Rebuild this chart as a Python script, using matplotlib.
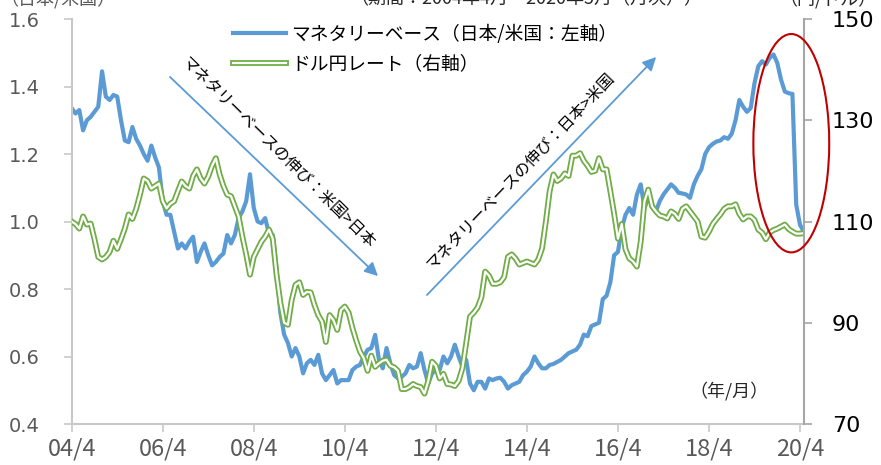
import numpy as np
import matplotlib
matplotlib.use('Agg')
import matplotlib.pyplot as plt
from matplotlib.lines import Line2D
from matplotlib.patches import Ellipse

plt.rcParams['font.family'] = ['Noto Sans CJK JP', 'DejaVu Sans']

# 月次データ 2004/4 ～ 2020/5
mb_ratio = [
    1.336, 1.32, 1.33, 1.27, 1.30, 1.31, 1.325, 1.34, 1.445, 1.37,
    1.36, 1.375, 1.37, 1.30, 1.24, 1.235, 1.28, 1.245, 1.225, 1.20,
    1.18, 1.225, 1.19, 1.16, 1.06, 1.02, 1.02, 0.97, 0.92, 0.935,
    0.92, 0.94, 0.955, 0.88, 0.91, 0.935, 0.90, 0.87, 0.88, 0.895,
    0.905, 0.96, 0.935, 0.96, 1.01, 1.03, 1.06, 1.14, 1.04, 1.00,
    0.995, 1.01, 0.965, 0.96, 0.86, 0.73, 0.665, 0.64, 0.60, 0.625,
    0.60, 0.55, 0.58, 0.59, 0.575, 0.605, 0.55, 0.53, 0.545, 0.56,
    0.52, 0.53, 0.53, 0.53, 0.56, 0.57, 0.575, 0.60, 0.62, 0.625,
    0.664, 0.59, 0.565, 0.625, 0.58, 0.545, 0.535, 0.54, 0.55, 0.575,
    0.565, 0.57, 0.61, 0.56, 0.52, 0.55, 0.56, 0.56, 0.60, 0.58,
    0.60, 0.635, 0.60, 0.57, 0.59, 0.52, 0.50, 0.525, 0.525, 0.505,
    0.535, 0.53, 0.535, 0.537, 0.525, 0.505, 0.515, 0.52, 0.525, 0.545,
    0.555, 0.57, 0.60, 0.58, 0.565, 0.565, 0.575, 0.578, 0.584, 0.59,
    0.60, 0.61, 0.615, 0.62, 0.635, 0.665, 0.66, 0.69, 0.695, 0.70,
    0.77, 0.78, 0.82, 0.90, 0.91, 0.98, 1.02, 1.04, 1.02, 1.08,
    1.11, 1.04, 1.07, 1.05, 1.03, 1.06, 1.08, 1.095, 1.11, 1.10,
    1.085, 1.083, 1.08, 1.07, 1.11, 1.135, 1.155, 1.20, 1.22, 1.23,
    1.237, 1.24, 1.25, 1.245, 1.26, 1.30, 1.36, 1.34, 1.325, 1.336,
    1.41, 1.46, 1.475, 1.465, 1.485, 1.495, 1.47, 1.42, 1.385, 1.38,
    1.378, 1.05, 0.99, 0.97,
]
usdjpy = [
    110.0, 109.5, 108.6, 111.0, 109.4, 109.6, 106.5, 103.0, 102.5, 103.0,
    104.0, 106.2, 104.6, 106.5, 108.6, 111.4, 110.5, 112.5, 115.3, 118.5,
    118.0, 116.5, 117.0, 117.5, 114.0, 112.6, 113.5, 114.0, 116.0, 117.9,
    117.0, 116.5, 119.0, 120.3, 118.5, 117.5, 118.9, 121.0, 122.5, 119.3,
    117.0, 115.3, 115.0, 113.0, 111.0, 107.0, 103.5, 99.5, 103.0, 104.5,
    106.0, 107.0, 108.4, 106.6, 99.5, 94.0, 90.0, 89.6, 94.5, 97.5,
    98.0, 95.5, 96.1, 96.0, 93.5, 91.5, 90.2, 86.2, 91.5, 90.5,
    88.6, 92.5, 93.2, 92.0, 89.0, 86.5, 84.3, 83.0, 80.5, 83.5,
    81.3, 82.0, 82.5, 82.7, 81.5, 81.2, 80.5, 76.9, 76.9, 77.3,
    77.9, 77.5, 77.3, 76.0, 78.5, 82.3, 81.5, 79.0, 79.9, 77.9,
    77.8, 77.5, 78.5, 81.0, 86.0, 91.2, 92.0, 93.0, 95.0, 100.1,
    99.3, 97.7, 97.7, 98.0, 99.0, 103.0, 103.5, 102.7, 101.5, 101.8,
    102.1, 101.8, 101.5, 102.5, 104.7, 110.0, 116.0, 119.3, 118.0, 118.5,
    119.5, 119.0, 123.0, 123.0, 123.5, 122.0, 121.0, 119.8, 120.0, 122.5,
    120.3, 120.3, 116.0, 111.5, 106.6, 109.5, 104.5, 102.7, 102.1, 101.1,
    106.0, 114.0, 116.3, 113.0, 112.0, 111.2, 111.0, 110.6, 112.0, 111.5,
    110.5, 112.5, 113.0, 112.0, 111.0, 110.0, 107.0, 106.8, 108.0, 109.5,
    110.5, 111.4, 112.5, 113.0, 113.0, 113.4, 111.5, 110.4, 111.0, 111.0,
    110.3, 108.4, 107.8, 106.5, 107.8, 108.3, 108.6, 109.0, 109.4, 108.5,
    108.0, 107.6, 107.6, 107.7,
]
xtick_labels = ['04/4', '06/4', '08/4', '10/4', '12/4', '14/4', '16/4', '18/4', '20/4']
label_mb = 'マネタリーベース（日本/米国：左軸）'
label_fx = 'ドル円レート（右軸）'

blue = '#5b9bd5'
green = '#70ad47'

months = np.arange(len(mb_ratio))

fig = plt.figure(figsize=(8.81, 4.65), dpi=100)
ax = fig.add_axes([71.7/881, 41/465, 732.3/881, 405/465])
ax2 = ax.twinx()

ax.plot(months, mb_ratio, color=blue, lw=3.0, solid_joinstyle='round')
# 二重線（緑の縁取り＋白抜き）
ax2.plot(months, usdjpy, color=green, lw=4.2, solid_joinstyle='round')
ax2.plot(months, usdjpy, color='white', lw=1.6, solid_joinstyle='round')

ax.set_xlim(0, 193.05)
ax.set_ylim(0.4, 1.6)
ax2.set_ylim(70, 150)
ax.set_xticks(np.arange(0, 193, 24))
ax.set_xticklabels(xtick_labels)
ax.set_yticks(np.arange(0.4, 1.61, 0.2))
ax.set_yticklabels(['%.1f' % v for v in np.arange(0.4, 1.61, 0.2)])
ax2.set_yticks([70, 90, 110, 130, 150])

for s in ['top', 'right']:
    ax.spines[s].set_visible(False)
for s in ['top', 'left', 'bottom']:
    ax2.spines[s].set_visible(False)
ax.spines['left'].set_color('#c8c8c8')
ax.spines['bottom'].set_color('#c8c8c8')
ax.spines['left'].set_linewidth(1.5)
ax.spines['bottom'].set_linewidth(1.5)
ax2.spines['right'].set_color('#a6a6a6')
ax2.spines['right'].set_linewidth(1.5)

ax.tick_params(axis='x', direction='out', length=6, width=1.2, color='#c8c8c8',
               labelcolor='#595959', labelsize=17, pad=4)
ax.tick_params(axis='y', direction='out', length=6, width=1.2, color='#c8c8c8',
               labelcolor='#595959', labelsize=14, pad=17)
ax2.tick_params(axis='y', direction='out', length=6, width=1.2, color='#a6a6a6',
                labelcolor='black', labelsize=16, pad=14)
for lab in ax.get_yticklabels() + ax2.get_yticklabels():
    lab.set_family('DejaVu Sans')

# 注釈の矢印と文字
arrow = dict(arrowstyle='-|>', color=blue, lw=1.3, mutation_scale=20)
ax.annotate('', xy=(0.421, 0.3605), xytext=(0.1315, 0.8617),
            xycoords='axes fraction', textcoords='axes fraction', arrowprops=arrow)
ax.annotate('', xy=(0.8007, 0.9111), xytext=(0.4825, 0.3136),
            xycoords='axes fraction', textcoords='axes fraction', arrowprops=arrow)
ax.text(0.2817, 0.6691, 'マネタリーベースの伸び：米国>日本', transform=ax.transAxes,
        rotation=-44.5, rotation_mode='anchor', ha='center', va='center', fontsize=11.5)
ax.text(0.6135, 0.6247, 'マネタリーベースの伸び：日本>米国', transform=ax.transAxes,
        rotation=46.4, rotation_mode='anchor', ha='center', va='center', fontsize=11.5)
ax.text(0.898, 0.0815, '（年/月）', transform=ax.transAxes, ha='center', va='center',
        fontsize=13, color='#262626')

ell = Ellipse((189.7, 1.232), 20, 0.647, fill=False, edgecolor='#c00000', lw=1.5,
              clip_on=False, zorder=10)
ax2.add_patch(ell)
ell.set_transform(ax.transData)

# 上端で切れている見出し
fig.text(0.0, 1 - 4/465, '（日本/米国）', ha='left', va='baseline', fontsize=13, color='#595959')
fig.text(350/881, 1 - 4/465, '（期間：2004年4月～2020年5月（月次））', ha='left', va='baseline',
         fontsize=13, color='#262626')
fig.text(877/881, 1 - 4/465, '（円/ドル）', ha='right', va='baseline', fontsize=13, color='#262626')

handles = [Line2D([], [], color=blue, lw=3.0),
           (Line2D([], [], color=green, lw=4.2), Line2D([], [], color='white', lw=1.6))]
ax2.legend(handles, [label_mb, label_fx], loc='upper left',
           bbox_to_anchor=(233/881, 1 - 24/465), bbox_transform=fig.transFigure,
           frameon=False, prop={'family': 'Noto Sans CJK JP', 'size': 13.5},
           handlelength=2.8, handletextpad=0.3, labelspacing=0.45,
           borderpad=0, borderaxespad=0)

fig.savefig('out.png', dpi=100)
